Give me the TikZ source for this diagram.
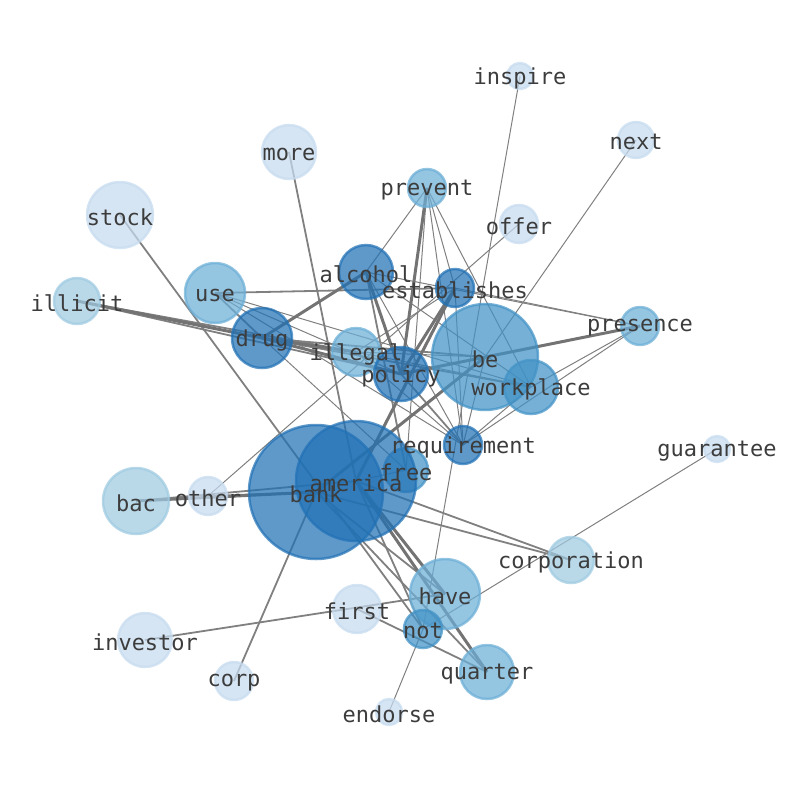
\documentclass[tikz,border=0pt]{standalone}
\usepackage{fontspec}
\newfontfamily\wordfont{DejaVu Sans Mono}
\usetikzlibrary{backgrounds}
\definecolor{blueA}{HTML}{C6DBEF}
\definecolor{blueB}{HTML}{9ECAE1}
\definecolor{blueC}{HTML}{6BAED6}
\definecolor{blueD}{HTML}{4292C6}
\definecolor{blueE}{HTML}{2171B5}
\definecolor{wordgray}{RGB}{60,60,60}
\begin{document}
\begin{tikzpicture}[x = 1pt, y = -1pt,
		word/.style = {circle, inner sep = 0pt, line width = 2.5pt,
			fill opacity = 0.72, draw opacity = 0.72},
		wordlabel/.style = {inner sep = 0pt, text = wordgray, yshift = -2pt,
			font = \wordfont\fontsize{22}{24}\selectfont},
		thinedge/.style = {black!50, line width = 1pt},
		midedge/.style = {black!50, line width = 1.8pt},
		thickedge/.style = {black!55, line width = 3pt}]
	\useasboundingbox (0, 0) rectangle (794, 790);
	% the words
	\foreach \name/\x/\y/\r/\col in {
			inspire/520/76/13/blueA, next/636/140/18/blueA, more/289/152/27/blueA,
			prevent/427/188/19/blueC, stock/120/215/33/blueA, offer/519/224/19/blueA,
			alcohol/366/272/27/blueE, establishes/455/288/19/blueE, use/215/293/30/blueC,
			illicit/77/301/23/blueB, drug/262/338/30/blueE, presence/640/326/19/blueC,
			illegal/356/352/24/blueC, be/485/357/53/blueD, policy/401/374/27/blueE,
			workplace/531/387/27/blueD, requirement/463/445/19/blueE, guarantee/717/449/13/blueA,
			free/406/470/22/blueD, bank/316/492/67/blueE, america/356/481/60/blueE,
			other/208/496/19/blueA, bac/136/501/33/blueB, corporation/571/560/23/blueB,
			have/445/594/35/blueC, first/357/609/24/blueA, not/423/629/19/blueD,
			investor/145/640/27/blueA, quarter/487/672/27/blueC, corp/234/681/19/blueA,
			endorse/389/712/13/blueA}
		\node[word, minimum size = 2*\r, fill = \col, draw = \col] (\name) at (\x, \y) {};
	% the co-occurrences
	\begin{scope}[on background layer]
		\foreach \a/\b in {inspire/not, next/be, offer/other, guarantee/not, endorse/not,
				alcohol/prevent, prevent/establishes, prevent/requirement, prevent/workplace,
				prevent/free, alcohol/presence, alcohol/workplace, alcohol/requirement,
				establishes/presence, establishes/illegal, establishes/requirement,
				presence/requirement, presence/workplace, use/requirement, use/policy,
				illegal/workplace, illegal/requirement, workplace/requirement,
				be/requirement, be/illegal, drug/free, america/free, use/workplace}
			\draw[thinedge] (\a.center) -- (\b.center);
		\foreach \a/\b in {more/america, stock/not, corp/bank, investor/have,
				first/quarter, corporation/america, corporation/bank, bank/have,
				bank/quarter, america/not, drug/workplace, illicit/illegal,
				illicit/policy, use/drug, use/establishes, alcohol/free,
				policy/requirement, bac/america, other/bank, drug/be}
			\draw[midedge] (\a.center) -- (\b.center);
		\foreach \a/\b in {illicit/drug, drug/illegal, drug/policy, alcohol/drug,
				alcohol/policy, prevent/policy, establishes/america, establishes/policy,
				be/bank, presence/policy, bac/bank, america/quarter, america/have}
			\draw[thickedge] (\a.center) -- (\b.center);
	\end{scope}
	% the labels
	\foreach \name in {inspire, next, more, prevent, stock, offer, alcohol,
			establishes, use, illicit, drug, presence, illegal, be, policy,
			workplace, requirement, guarantee, free, bank, america, other, bac,
			corporation, have, first, not, investor, quarter, corp, endorse}
		\node[wordlabel] (\name-l) at (\name) {\name};
\end{tikzpicture}
\end{document}
